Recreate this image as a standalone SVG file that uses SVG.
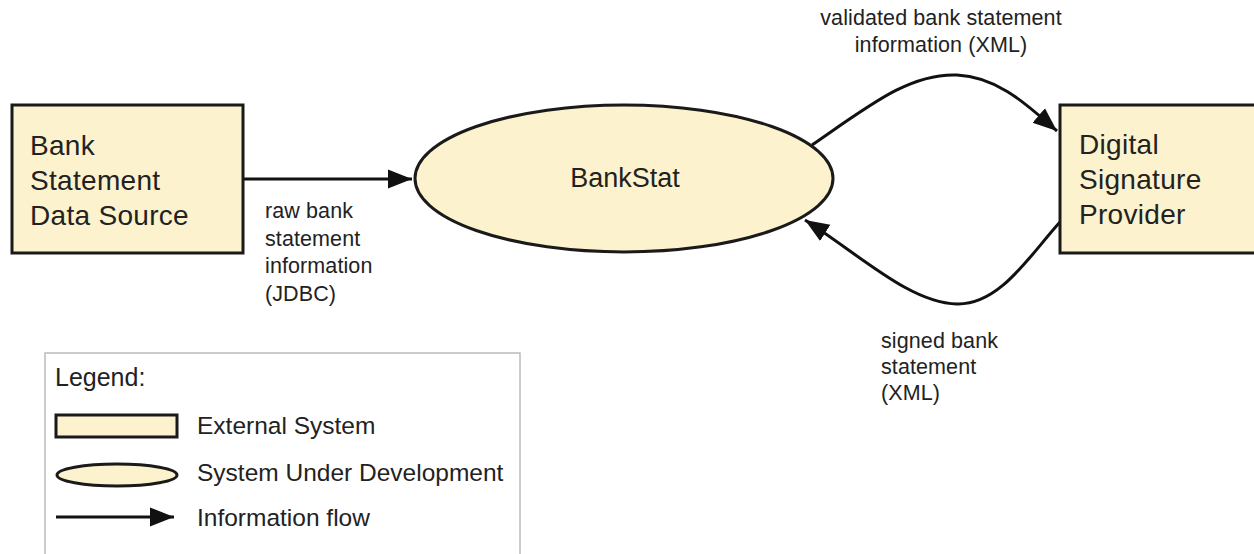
<svg xmlns="http://www.w3.org/2000/svg" width="1254" height="554" viewBox="0 0 1254 554">
<style>
.node{fill:#fcf2cd;stroke:#1a1a1a;stroke-width:3}
.lbl{font-family:"Liberation Sans",Arial,sans-serif;fill:#222}
.big{font-size:28px;letter-spacing:0.3px}
.mid{font-size:21.5px;letter-spacing:0.1px}
.leg{font-size:24.5px}
.conn{fill:none;stroke:#111;stroke-width:3}
</style>
<defs>
<marker id="ahb" viewBox="0 0 10 10" refX="10" refY="5" markerWidth="8" markerHeight="8" orient="auto">
<path d="M0,1 L10,5 L0,9 z" fill="#111"/>
</marker>
</defs>
<rect width="1254" height="554" fill="#fff"/>
<g id="connectors">
<path class="conn" d="M243,179 L412,179" marker-end="url(#ahb)"/>
<path class="conn" d="M812,145 C870,105 910,73 957,75 C1000,77 1030,108 1057,131" marker-end="url(#ahb)"/>
<path class="conn" d="M1060,222 C1030,255 1000,305 957,304 C910,303 860,255 805,220" marker-end="url(#ahb)"/>
</g>
<g id="bank-source">
<rect class="node" x="12" y="105" width="231" height="148"/>
<text class="lbl big" x="30" y="155">Bank</text>
<text class="lbl big" x="30" y="190">Statement</text>
<text class="lbl big" x="30" y="225">Data Source</text>
</g>
<g id="bankstat">
<ellipse class="node" cx="624" cy="178.5" rx="209" ry="73.5"/>
<text class="lbl" x="625" y="187" font-size="27" text-anchor="middle">BankStat</text>
</g>
<g id="digital-signature">
<rect class="node" x="1060" y="105" width="200" height="148"/>
<text class="lbl big" x="1079" y="154">Digital</text>
<text class="lbl big" x="1079" y="189">Signature</text>
<text class="lbl big" x="1079" y="224">Provider</text>
</g>
<g id="labels">
<text class="lbl mid" x="265" y="218">raw bank</text>
<text class="lbl mid" x="265" y="246">statement</text>
<text class="lbl mid" x="265" y="273">information</text>
<text class="lbl mid" x="265" y="301">(JDBC)</text>
<text class="lbl mid" x="941" y="25" text-anchor="middle">validated bank statement</text>
<text class="lbl mid" x="941" y="52" text-anchor="middle">information  (XML)</text>
<text class="lbl mid" x="881" y="348">signed bank</text>
<text class="lbl mid" x="881" y="374">statement</text>
<text class="lbl mid" x="881" y="400">(XML)</text>
</g>
<g id="legend">
<rect x="45" y="353" width="475" height="210" fill="#fff" stroke="#bbb" stroke-width="1.5"/>
<text class="lbl" x="55" y="386" font-size="25">Legend:</text>
<rect class="node" x="56" y="415" width="121" height="22"/>
<text class="lbl leg" x="197" y="434">External System</text>
<ellipse class="node" cx="117" cy="475" rx="60" ry="11"/>
<text class="lbl leg" x="197" y="481">System Under Development</text>
<path class="conn" d="M56,517 L174,517" marker-end="url(#ahb)"/>
<text class="lbl leg" x="197" y="526">Information flow</text>
</g>
</svg>
